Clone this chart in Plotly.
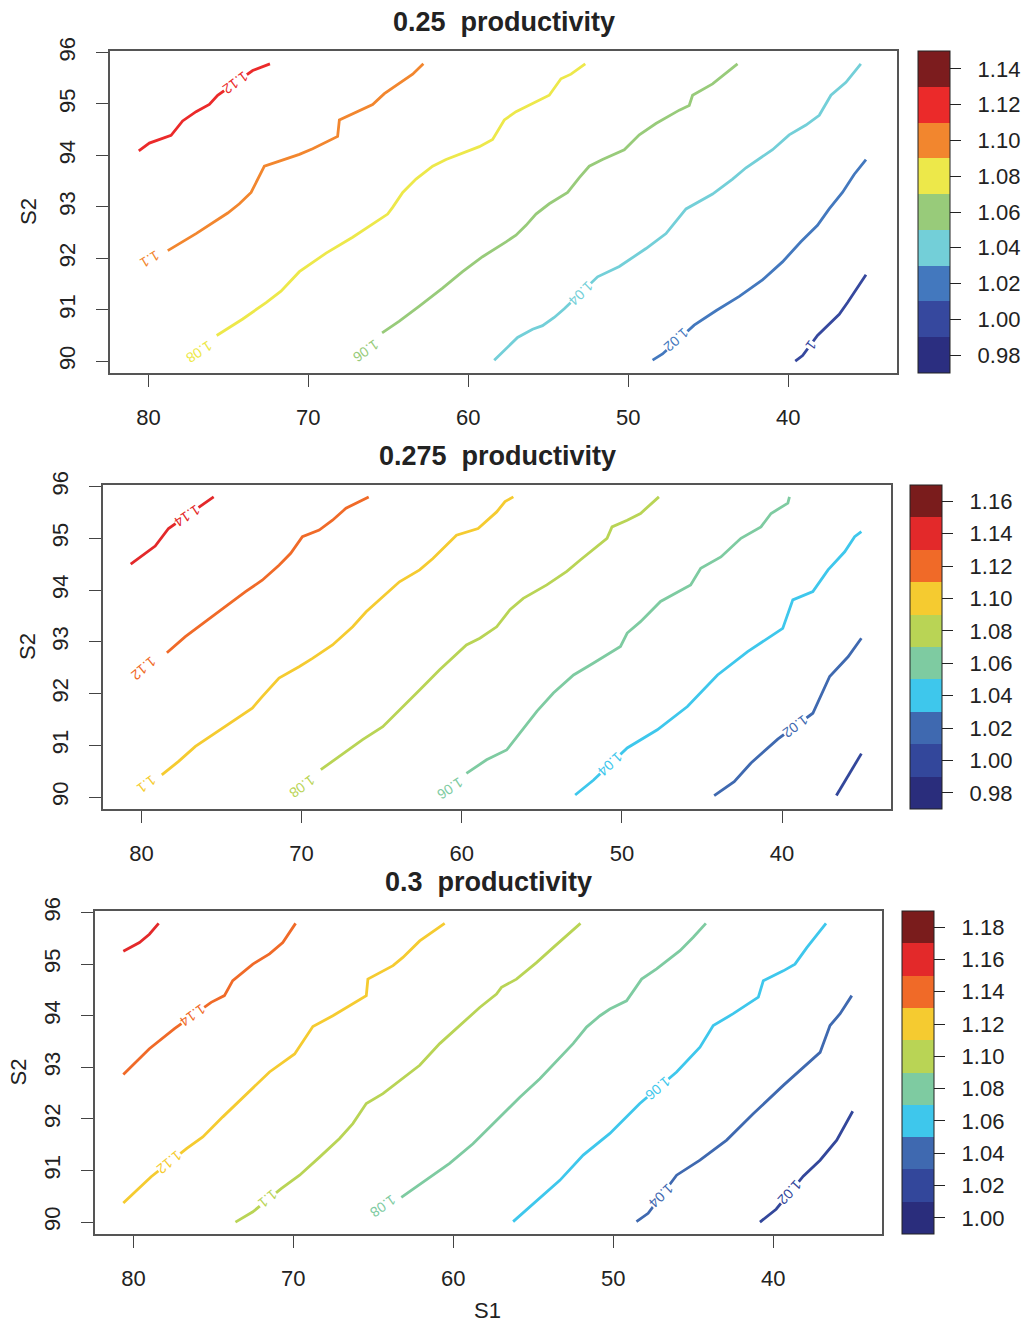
import plotly.graph_objects as go

# ---------------- data ----------------
# Panel 1: 0.25 productivity
p1_112_s1 = [80.6, 79.94, 78.58, 77.86, 77.02, 76.19, 75.67, 73.48, 72.4]
p1_112_s2 = [94.09, 94.24, 94.39, 94.67, 94.85, 94.99, 95.17, 95.65, 95.78]
p1_110_s1 = [78.79, 77.02, 75.04, 74.31, 73.58, 73.17, 72.75, 71.81, 70.56, 69.73, 68.17, 68.06, 67.23, 65.98, 65.25, 64.31, 63.48, 62.81]
p1_110_s2 = [92.15, 92.48, 92.88, 93.06, 93.28, 93.54, 93.79, 93.89, 94.02, 94.13, 94.37, 94.69, 94.81, 94.99, 95.2, 95.41, 95.58, 95.78]
p1_108_s1 = [75.73, 74.1, 72.64, 71.71, 70.56, 68.89, 67.23, 65.98, 65.04, 64.73, 64.1, 63.27, 62.23, 61.39, 60.36, 59.31, 58.48, 57.75, 57.02, 55.98, 54.94, 54.21, 53.58, 52.69]
p1_108_s2 = [90.5, 90.82, 91.14, 91.36, 91.74, 92.1, 92.41, 92.67, 92.86, 92.99, 93.28, 93.54, 93.79, 93.92, 94.05, 94.17, 94.31, 94.69, 94.85, 95.01, 95.17, 95.49, 95.58, 95.78]
p1_106_s1 = [65.39, 64.31, 63.06, 61.61, 60.36, 59.11, 57.64, 57.02, 56.39, 55.77, 54.94, 53.79, 53.06, 52.44, 51.61, 50.25, 49.31, 48.27, 46.81, 46.19, 45.98, 44.73, 43.17]
p1_106_s2 = [90.55, 90.78, 91.07, 91.42, 91.74, 92.03, 92.32, 92.45, 92.64, 92.86, 93.06, 93.28, 93.57, 93.79, 93.92, 94.11, 94.4, 94.62, 94.88, 94.97, 95.17, 95.39, 95.78]
p1_104_s1 = [58.38, 56.92, 55.98, 55.36, 54.63, 54.0, 51.92, 50.56, 48.89, 47.64, 46.39, 44.73, 43.48, 42.64, 40.98, 39.94, 38.89, 38.06, 37.33, 36.39, 35.46]
p1_104_s2 = [90.02, 90.46, 90.62, 90.69, 90.85, 91.02, 91.64, 91.84, 92.19, 92.48, 92.96, 93.25, 93.54, 93.76, 94.11, 94.4, 94.59, 94.78, 95.17, 95.42, 95.78]
p1_102_s1 = [48.48, 47.86, 45.88, 44.52, 43.06, 41.61, 40.36, 39.21, 38.17, 37.44, 36.61, 35.88, 35.14]
p1_102_s2 = [90.02, 90.14, 90.7, 90.98, 91.26, 91.58, 91.93, 92.32, 92.64, 92.96, 93.28, 93.63, 93.92]
p1_100_s1 = [39.56, 39.1, 38.17, 36.81, 36.29, 35.67, 35.14]
p1_100_s2 = [90.0, 90.11, 90.5, 90.91, 91.14, 91.42, 91.68]

p1_label_text = ["1.12", "1.1", "1.08", "1.06", "1.04", "1.02", "1"]
p1_label_s1 = [74.55, 79.94, 76.81, 66.39, 52.96, 47.02, 38.58]
p1_label_s2 = [95.41, 91.97, 90.18, 90.21, 91.31, 90.41, 90.31]

# Panel 2: 0.275 productivity
p2_114_s1 = [80.67, 79.98, 79.14, 78.31, 76.01, 75.49]
p2_114_s2 = [94.5, 94.66, 94.85, 95.19, 95.68, 95.8]
p2_112_s1 = [78.41, 77.26, 76.01, 74.75, 73.5, 72.46, 71.41, 70.68, 69.95, 68.9, 68.07, 67.23, 65.81]
p2_112_s2 = [92.79, 93.1, 93.39, 93.68, 93.97, 94.19, 94.48, 94.71, 95.03, 95.16, 95.35, 95.58, 95.8]
p2_110_s1 = [78.73, 77.68, 76.63, 75.38, 74.34, 73.08, 72.46, 71.41, 70.16, 69.32, 68.07, 66.81, 65.97, 65.14, 63.89, 62.63, 61.8, 60.33, 58.98, 57.82, 57.3, 56.78]
p2_110_s2 = [90.43, 90.69, 90.98, 91.24, 91.46, 91.72, 91.94, 92.3, 92.52, 92.68, 92.94, 93.29, 93.58, 93.81, 94.16, 94.39, 94.61, 95.06, 95.19, 95.51, 95.71, 95.8]
p2_108_s1 = [68.8, 67.65, 66.19, 64.93, 63.89, 62.63, 61.38, 60.33, 59.71, 58.87, 57.82, 56.99, 56.16, 54.69, 53.44, 52.6, 51.55, 50.93, 50.62, 49.67, 48.84, 47.69]
p2_108_s2 = [90.53, 90.78, 91.11, 91.36, 91.69, 92.07, 92.46, 92.75, 92.94, 93.07, 93.29, 93.62, 93.84, 94.1, 94.36, 94.58, 94.84, 95.0, 95.22, 95.35, 95.48, 95.8]
p2_106_s1 = [59.71, 58.45, 57.2, 56.3, 55.3, 54.28, 53.02, 51.77, 50.09, 49.67, 48.84, 47.59, 45.71, 45.08, 43.82, 42.57, 41.32, 40.69, 39.64, 39.54]
p2_106_s2 = [90.46, 90.72, 90.91, 91.26, 91.66, 92.01, 92.36, 92.59, 92.91, 93.17, 93.39, 93.78, 94.1, 94.42, 94.64, 95.0, 95.22, 95.48, 95.68, 95.8]
p2_104_s1 = [52.92, 51.77, 49.67, 47.79, 45.91, 44.03, 42.15, 39.96, 39.33, 38.08, 37.13, 36.09, 35.47, 35.05]
p2_104_s2 = [90.04, 90.33, 90.95, 91.3, 91.75, 92.36, 92.81, 93.26, 93.81, 93.97, 94.39, 94.74, 95.03, 95.13]
p2_102_s1 = [44.24, 42.99, 41.94, 40.27, 38.08, 37.03, 35.88, 35.05]
p2_102_s2 = [90.03, 90.3, 90.66, 91.12, 91.62, 92.33, 92.71, 93.07]
p2_100_s1 = [36.61, 35.88, 35.05]
p2_100_s2 = [90.03, 90.4, 90.84]

p2_label_text = ["1.14", "1.12", "1.1", "1.08", "1.06", "1.04", "1.02"]
p2_label_s1 = [77.16, 79.87, 79.67, 69.95, 60.75, 50.72, 39.17]
p2_label_s2 = [95.43, 92.49, 90.24, 90.2, 90.17, 90.64, 91.37]

# Panel 3: 0.3 productivity
p3_116_s1 = [80.63, 79.62, 79.0, 78.42]
p3_116_s2 = [95.25, 95.42, 95.58, 95.79]
p3_114_s1 = [80.63, 79.0, 77.43, 75.14, 74.31, 73.79, 72.53, 71.49, 70.66, 69.86]
p3_114_s2 = [92.86, 93.36, 93.75, 94.26, 94.39, 94.68, 95.0, 95.2, 95.42, 95.79]
p3_112_s1 = [80.63, 78.89, 76.66, 75.66, 74.41, 73.16, 71.49, 69.92, 68.78, 67.53, 65.44, 65.34, 63.77, 63.15, 62.1, 60.54]
p3_112_s2 = [90.37, 90.88, 91.43, 91.65, 92.04, 92.42, 92.91, 93.26, 93.79, 94.0, 94.39, 94.71, 94.97, 95.13, 95.45, 95.79]
p3_110_s1 = [73.62, 72.53, 70.76, 69.61, 68.36, 67.11, 66.28, 65.44, 64.4, 63.15, 62.1, 60.85, 59.6, 58.35, 57.3, 56.99, 56.05, 54.8, 53.76, 52.92, 52.05]
p3_110_s2 = [90.0, 90.2, 90.65, 90.91, 91.26, 91.62, 91.91, 92.3, 92.49, 92.78, 93.04, 93.46, 93.81, 94.16, 94.42, 94.55, 94.71, 95.03, 95.32, 95.55, 95.79]
p3_108_s1 = [63.25, 61.9, 60.23, 58.77, 57.52, 57.1, 55.84, 54.59, 53.34, 52.51, 51.67, 50.83, 50.21, 49.17, 48.65, 48.23, 47.29, 45.83, 45.0, 44.21]
p3_108_s2 = [90.48, 90.78, 91.14, 91.52, 91.91, 92.04, 92.42, 92.78, 93.2, 93.46, 93.78, 94.0, 94.13, 94.29, 94.52, 94.71, 94.91, 95.26, 95.52, 95.79]
p3_106_s1 = [56.26, 55.01, 53.34, 51.88, 50.21, 48.34, 46.04, 44.58, 43.75, 42.5, 40.93, 40.62, 39.37, 38.64, 37.9, 36.7]
p3_106_s2 = [90.01, 90.36, 90.81, 91.3, 91.72, 92.3, 92.91, 93.39, 93.81, 94.04, 94.36, 94.68, 94.87, 95.0, 95.32, 95.79]
p3_104_s1 = [48.55, 47.82, 46.04, 44.58, 42.91, 41.25, 39.37, 38.32, 37.07, 36.45, 35.82, 35.09]
p3_104_s2 = [90.01, 90.17, 90.91, 91.2, 91.59, 92.1, 92.65, 92.94, 93.29, 93.81, 94.04, 94.39]
p3_102_s1 = [40.83, 39.82, 38.12, 37.07, 36.03, 35.03]
p3_102_s2 = [90.0, 90.25, 90.89, 91.2, 91.59, 92.15]

p3_label_text = ["1.14", "1.12", "1.1", "1.08", "1.06", "1.04", "1.02"]
p3_label_s1 = [76.29, 77.78, 71.6, 64.4, 47.19, 47.0, 38.97]
p3_label_s2 = [94.0, 91.16, 90.45, 90.3, 92.6, 90.52, 90.57]

# colour bars
p1_levels = [0.98, 1.00, 1.02, 1.04, 1.06, 1.08, 1.10, 1.12, 1.14]
p2_levels = [0.98, 1.00, 1.02, 1.04, 1.06, 1.08, 1.10, 1.12, 1.14, 1.16]
p3_levels = [1.00, 1.02, 1.04, 1.06, 1.08, 1.10, 1.12, 1.14, 1.16, 1.18]

titles = ["0.25  productivity", "0.275  productivity", "0.3  productivity"]
x_ticks = [80, 70, 60, 50, 40]
y_ticks = [90, 91, 92, 93, 94, 95, 96]

# ---------------- styling ----------------
pal1 = ['#2B2E80', '#36489E', '#4378BE', '#73CFD8', '#98CB7A', '#EDE84A', '#F2862E', '#EB2A2A', '#7C1C1E']
pal2 = ['#2A2D7C', '#33479B', '#3F69B0', '#3EC7EC', '#7ECBA1', '#B9D455', '#F5CB30', '#F06A28', '#E3292A', '#7A1C1C']

W, H = 1023, 1324
FONT = "Liberation Sans, Arial, sans-serif"
NB = '\u00a0'

panels = [
    dict(box=(110, 897, 51, 373), cbar=(918, 51, 373), pal=pal1, levels=p1_levels,
         lines=[(1.12, p1_112_s1, p1_112_s2), (1.10, p1_110_s1, p1_110_s2), (1.08, p1_108_s1, p1_108_s2),
                (1.06, p1_106_s1, p1_106_s2), (1.04, p1_104_s1, p1_104_s2), (1.02, p1_102_s1, p1_102_s2),
                (1.00, p1_100_s1, p1_100_s2)],
         labels=(p1_label_text, p1_label_s1, p1_label_s2),
         angles=[144, 149, 147, 145, 136, 138, 127], s2x=28),
    dict(box=(103, 891, 485, 809), cbar=(910, 485, 809), pal=pal2, levels=p2_levels,
         lines=[(1.14, p2_114_s1, p2_114_s2), (1.12, p2_112_s1, p2_112_s2), (1.10, p2_110_s1, p2_110_s2),
                (1.08, p2_108_s1, p2_108_s2), (1.06, p2_106_s1, p2_106_s2), (1.04, p2_104_s1, p2_104_s2),
                (1.02, p2_102_s1, p2_102_s2), (1.00, p2_100_s1, p2_100_s2)],
         labels=(p2_label_text, p2_label_s1, p2_label_s2),
         angles=[146, 140, 143, 144, 147, 137, 143], s2x=27),
    dict(box=(95, 882, 911, 1234), cbar=(902, 911, 1234), pal=pal2, levels=p3_levels,
         lines=[(1.16, p3_116_s1, p3_116_s2), (1.14, p3_114_s1, p3_114_s2), (1.12, p3_112_s1, p3_112_s2),
                (1.10, p3_110_s1, p3_110_s2), (1.08, p3_108_s1, p3_108_s2), (1.06, p3_106_s1, p3_106_s2),
                (1.04, p3_104_s1, p3_104_s2), (1.02, p3_102_s1, p3_102_s2)],
         labels=(p3_label_text, p3_label_s1, p3_label_s2),
         angles=[145, 140, 140, 145, 140, 136, 133], s2x=18),
]

fig = go.Figure()
annotations = []
layout = dict(width=W, height=H, margin=dict(l=0, r=0, t=0, b=0, autoexpand=False),
              paper_bgcolor='white', plot_bgcolor='white', showlegend=False,
              font=dict(family=FONT, color='#222'))

for i, p in enumerate(panels):
    k = '' if i == 0 else str(i + 1)
    xa, ya = 'x' + k, 'y' + k
    x0, x1, y0, y1 = p['box']
    lev0 = p['levels'][0]
    pal = p['pal']

    def col(level, lev0=lev0, pal=pal):
        return pal[int(round((level - lev0) / 0.02))]

    for level, s1, s2 in p['lines']:
        fig.add_trace(go.Scatter(x=s1, y=s2, mode='lines', xaxis=xa, yaxis=ya,
                                 line=dict(color=col(level), width=2.8),
                                 hoverinfo='skip', showlegend=False))

    texts, ls1, ls2 = p['labels']
    for t, a, b, ang in zip(texts, ls1, ls2, p['angles']):
        annotations.append(dict(x=a, y=b, xref=xa, yref=ya, text=t, showarrow=False,
                                xanchor='center', yanchor='middle',
                                textangle=ang, bgcolor='white', borderpad=0,
                                font=dict(size=14, color=col(float(t)), family=FONT)))

    # colour bar (discrete)
    levels = p['levels']
    n = len(levels)
    cs = []
    for j in range(n):
        cs.append([j / n, pal[j]])
        cs.append([(j + 1) / n, pal[j]])
    cx, cy0, cy1 = p['cbar']
    fig.add_trace(go.Scatter(
        x=[None], y=[None], mode='markers', xaxis=xa, yaxis=ya, hoverinfo='skip', showlegend=False,
        marker=dict(color=[levels[0]], colorscale=cs, cmin=levels[0] - 0.01, cmax=levels[-1] + 0.01,
                    showscale=True,
                    colorbar=dict(x=cx / W, xanchor='left', xpad=0, ypad=0,
                                  y=1 - (cy0 + cy1) / 2 / H, yanchor='middle',
                                  len=cy1 - cy0, lenmode='pixels', thickness=32, thicknessmode='pixels',
                                  outlinewidth=1, outlinecolor='#222',
                                  tickvals=levels, ticktext=[NB + NB + '%.2f' % v for v in levels],
                                  ticks='outside', ticklen=11, tickcolor='#222', tickwidth=1,
                                  tickfont=dict(size=22, family=FONT, color='#222')))))

    layout['xaxis' + k] = dict(domain=[x0 / W, x1 / W], anchor=ya, range=[82.4, 33.2],
                               tickvals=x_ticks, ticks='outside', ticklen=12, tickcolor='#444',
                               showline=True, mirror=True, linecolor='#555', linewidth=1.5,
                               showgrid=False, zeroline=False, ticklabelstandoff=12,
                               tickfont=dict(size=22, family=FONT, color='#222'))
    layout['yaxis' + k] = dict(domain=[1 - y1 / H, 1 - y0 / H], anchor=xa, range=[89.77, 96.03],
                               tickvals=y_ticks, ticks='outside', ticklen=12, tickcolor='#444',
                               tickangle=-90,
                               showline=True, mirror=True, linecolor='#555', linewidth=1.5,
                               showgrid=False, zeroline=False, ticklabelstandoff=12,
                               tickfont=dict(size=22, family=FONT, color='#222'))

    # title and S2 label
    annotations.append(dict(x=(x0 + x1) / 2 / W, y=1 - (y0 - 29) / H, xref='paper', yref='paper',
                            xanchor='center', yanchor='middle',
                            text='<b>' + titles[i] + '</b>', showarrow=False,
                            font=dict(size=27, family=FONT, color='#222')))
    annotations.append(dict(x=p['s2x'] / W, y=1 - (y0 + y1) / 2 / H, xref='paper', yref='paper',
                            xanchor='center', yanchor='middle',
                            text='S2', textangle=-90, showarrow=False,
                            font=dict(size=22, family=FONT, color='#222')))

annotations.append(dict(x=487 / W, y=1 - 1310 / H, xref='paper', yref='paper', text='S1',
                        xanchor='center', yanchor='middle',
                        showarrow=False, font=dict(size=22, family=FONT, color='#222')))
layout['annotations'] = annotations
fig.update_layout(**layout)
fig.write_html("out.html")
